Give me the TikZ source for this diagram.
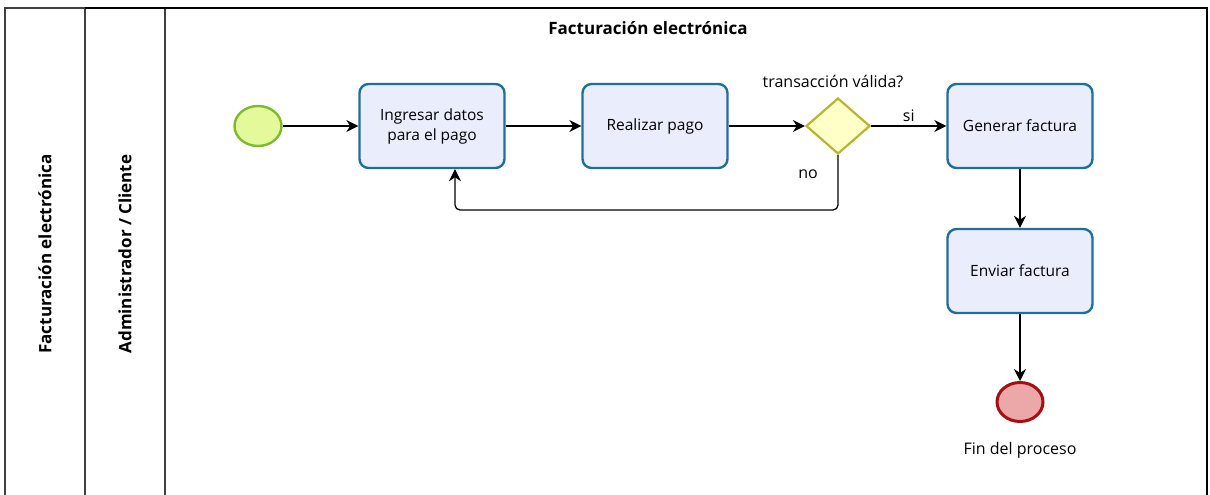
\documentclass[tikz,border=0pt]{standalone}
\usepackage{fontspec}
\setmainfont{Open Sans}
\usetikzlibrary{shapes.geometric,arrows.meta,positioning}

\definecolor{taskfill}{HTML}{E9EDFC}
\definecolor{taskdraw}{HTML}{1F6E9C}
\definecolor{startfill}{HTML}{E4FA9A}
\definecolor{startdraw}{HTML}{7DBA2E}
\definecolor{endfill}{HTML}{ECA8A8}
\definecolor{enddraw}{HTML}{A30F12}
\definecolor{gwfill}{HTML}{FFFFC8}
\definecolor{gwdraw}{HTML}{B8B530}

\tikzset{
  task/.style={draw=taskdraw, fill=taskfill, line width=2.4pt, rounded corners=9pt,
    minimum width=145pt, minimum height=84pt, align=center, font=\fontsize{15.5}{20}\selectfont},
  startev/.style={ellipse, draw=startdraw, fill=startfill, line width=2.4pt,
    minimum width=47pt, minimum height=40pt, inner sep=0pt},
  endev/.style={ellipse, draw=enddraw, fill=endfill, line width=3pt,
    minimum width=46pt, minimum height=39pt, inner sep=0pt},
  gateway/.style={diamond, draw=gwdraw, fill=gwfill, line width=2.2pt,
    minimum width=64pt, minimum height=56pt, inner sep=0pt, aspect=1.15},
  flow/.style={line width=1.3pt, -{Stealth[length=12pt,width=12pt]}},
  lbl/.style={font=\fontsize{16}{19}\selectfont},
  lane/.style={draw=black!75, line width=1.6pt}
}

\begin{document}
\begin{tikzpicture}[x=1pt,y=-1pt]
  \useasboundingbox (0,0) rectangle (1210,495);
  % pool and lanes
  \draw[lane] (5,495) -- (5,8) -- (85,8);
  \draw[lane] (85,495) -- (85,8);
  \draw[lane] (165,495) -- (165,8);
  \draw[line width=2.6pt] (85,8) -- (1207,8) -- (1207,495);
  \node[rotate=90, font=\fontsize{17}{20}\selectfont\bfseries] (pool) at (45,254) {Facturación electrónica};
  \node[rotate=90, font=\fontsize{17}{20}\selectfont\bfseries] (actor) at (125,254) {Administrador / Cliente};
  \node[font=\fontsize{17}{20}\selectfont\bfseries] (title) at (648,28) {Facturación electrónica};
  %
  \node[startev] (s) at (258,126) {};
  \node[task] (t1) at (432,126) {Ingresar datos\\para el pago};
  \node[task] (t2) at (655,126) {Realizar pago};
  \node[gateway] (g) at (838,126) {};
  \node[lbl] (gq) at (833,81) {transacción válida?};
  \node[task] (t3) at (1020,126) {Generar factura};
  \node[task] (t4) at (1020,271) {Enviar factura};
  \node[endev] (e) at (1020,402) {};
  \node[lbl] (eq) at (1020,450) {Fin del proceso};
  \coordinate (b1) at (838,210);
  \coordinate (b2) at (455,210);
  %
  \draw[flow] (s) -- (t1);
  \draw[flow] (t1) -- (t2);
  \draw[flow] (t2) -- (g);
  \draw[flow] (g) -- node[lbl, above=0pt, pos=0.5] {si} (t3);
  \draw[flow, rounded corners=5pt] (g.south) -- (b1) -- (b2) -- (b2 |- t1.south);
  \node[lbl] (no) at (808,174) {no};
  \draw[flow] (t3) -- (t4);
  \draw[flow] (t4) -- (e);
\end{tikzpicture}
\end{document}
